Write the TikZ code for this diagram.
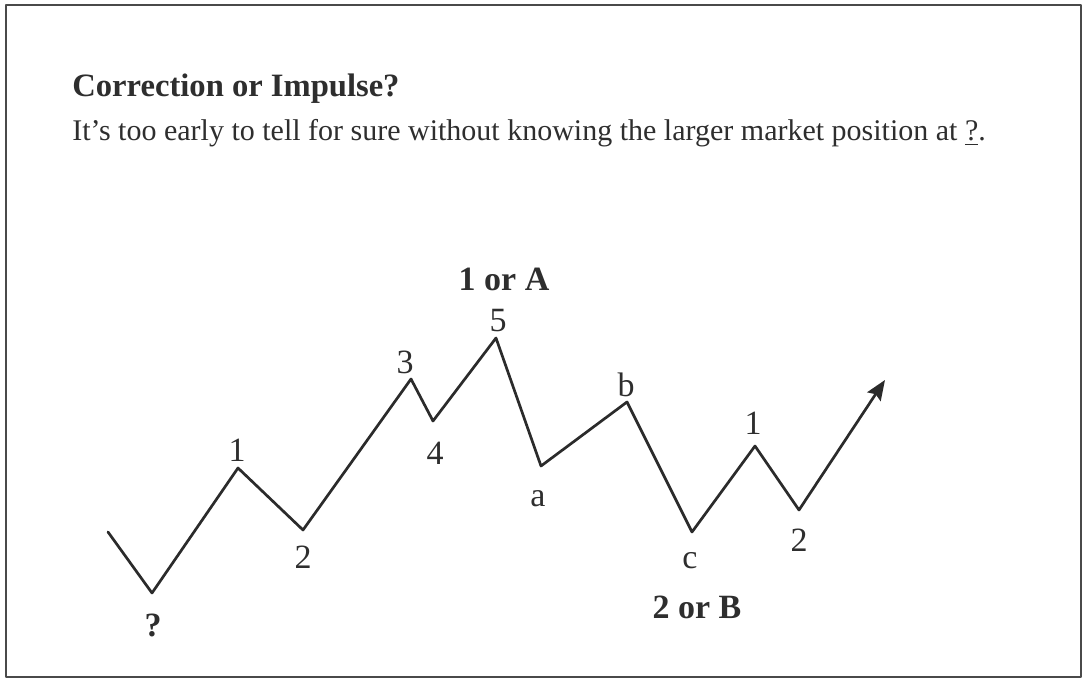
\documentclass[tikz,border=0pt]{standalone}
\usepackage{fontspec}
\setmainfont{Liberation Serif}
\usepackage{xcolor}
\usepackage{tikz}
\usetikzlibrary{arrows.meta,positioning}
\definecolor{wvink}{HTML}{2B2B2B}
\definecolor{wvtext}{HTML}{2E2E2E}
\definecolor{wvframe}{HTML}{4A4A4A}

\begin{document}
\begin{tikzpicture}[x={(0.5pt,0)},y={(0,-0.5pt)},line cap=round,line join=round,
  wave/.style={wvink,line width=1.35pt},
  lbl/.style={text=wvtext,inner sep=0pt,font=\fontsize{17}{20}\selectfont},
  blbl/.style={lbl,font=\fontsize{17}{20}\selectfont\bfseries}]
\useasboundingbox (0,0) rectangle (1083,679);
%% frame
\draw[wvframe,line width=1.4pt] (6,5) rectangle (1081,677);
%% heading
\node[anchor=base west,inner sep=0pt,text=wvtext,font=\fontsize{16.3}{19}\selectfont\bfseries] (title) at (72,97) {Correction or Impulse?};
\node[anchor=base west,inner sep=0pt,text=wvtext,font=\fontsize{15}{18}\selectfont] (sub) at (72,141) {It’s too early to tell for sure without knowing the larger market position at \underline{?}.};
%% turning points of the wave (pixel grid, y downwards)
\foreach \n/\x/\y in {s/108/532, q/152/593, i1/238/468, i2/303/530, i3/411/379, i4/433/421,
  i5/496/338, ca/541/466, cb/627/402, cc/692/532, n1/755/446, n2/799/510, e/885/380}
  \coordinate (\n) at (\x,\y);
%% the wave
\draw[wave] (s) -- (q) -- (i1) -- (i2) -- (i3) -- (i4) -- (i5) -- (ca) -- (cb) -- (cc) -- (n1) -- (n2);
\draw[wave,-{Stealth[length=10pt,width=8pt,inset=1.5pt]}] (n2) -- (e);
%% wave labels
\foreach \n/\x/\y/\t in {l1/237/450/1, l2/303/557/2, l3/405/362/3, l4/435/453/4,
  l5/498/321/5, la/538/499/a, lb/626/385/b, lc/690/561/c, m1/753/423/1, m2/799/540/2}
  \node[lbl] (\n) at (\x,\y) {\t};
\node[blbl] (lq) at (153,625) {?};
%% degree labels
\node[blbl] (top) at (504,279) {1 or A};
\node[blbl] (bot) at (697,607) {2 or B};
\end{tikzpicture}
\end{document}
